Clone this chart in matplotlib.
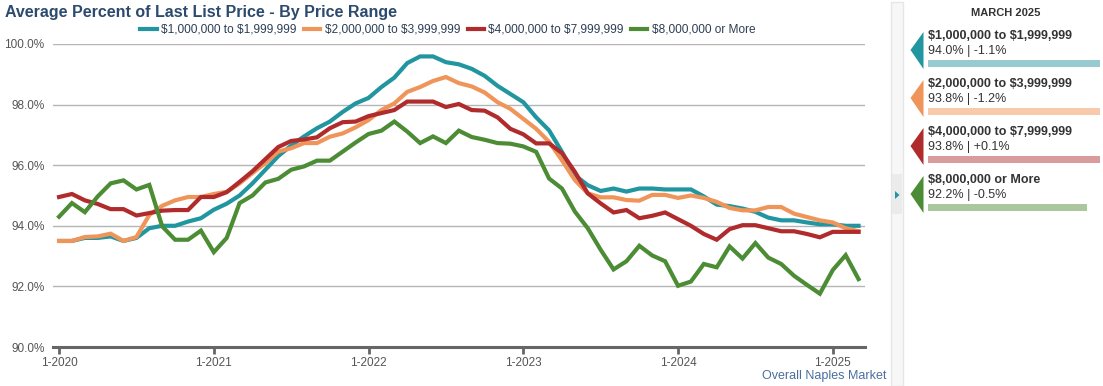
import matplotlib
matplotlib.use("Agg")
import matplotlib.pyplot as plt
from matplotlib.patches import Polygon, Rectangle

plt.rcParams['font.family'] = ['Liberation Sans', 'DejaVu Sans']
plt.rcParams['text.parse_math'] = False

# monthly values, Jan 2020 .. Mar 2025
series_names = ["$1,000,000 to $1,999,999", "$2,000,000 to $3,999,999",
                "$4,000,000 to $7,999,999", "$8,000,000 or More"]
colors = ["#2196a0", "#f0955a", "#b02b2b", "#4b8c34"]
light_colors = ["#98cbd0", "#f8c9ab", "#d99b9b", "#abc79e"]

tier1 = [93.5, 93.5, 93.6, 93.6, 93.65, 93.5, 93.6, 93.92, 94.0, 94.0, 94.14, 94.25,
         94.53, 94.73, 95.0, 95.4, 95.85, 96.3, 96.65, 96.95, 97.22, 97.44, 97.76, 98.04,
         98.22, 98.58, 98.89, 99.37, 99.59, 99.59, 99.4, 99.33, 99.18, 98.95, 98.62, 98.35,
         98.08, 97.58, 97.15, 96.44, 95.67, 95.34, 95.15, 95.23, 95.13, 95.23, 95.23, 95.2,
         95.2, 95.2, 94.97, 94.7, 94.65, 94.57, 94.46, 94.27, 94.18, 94.18, 94.11, 94.05,
         94.05, 94.0, 94.0]
tier2 = [93.5, 93.5, 93.63, 93.65, 93.74, 93.5, 93.63, 94.36, 94.66, 94.84, 94.95, 94.95,
         95.05, 95.12, 95.4, 95.74, 96.07, 96.45, 96.56, 96.73, 96.73, 96.94, 97.05, 97.25,
         97.49, 97.82, 98.04, 98.42, 98.58, 98.78, 98.91, 98.71, 98.6, 98.4, 98.08, 97.86,
         97.53, 97.2, 96.77, 96.16, 95.51, 95.07, 94.94, 94.94, 94.85, 94.83, 95.02, 95.02,
         94.92, 95.0, 94.92, 94.79, 94.59, 94.51, 94.51, 94.62, 94.62, 94.4, 94.29, 94.18,
         94.11, 93.92, 93.82]
tier3 = [94.95, 95.05, 94.84, 94.72, 94.55, 94.55, 94.34, 94.42, 94.5, 94.52, 94.52, 94.95,
         94.95, 95.11, 95.45, 95.8, 96.2, 96.6, 96.8, 96.85, 96.92, 97.22, 97.42, 97.44,
         97.62, 97.72, 97.82, 98.1, 98.1, 98.1, 97.92, 98.02, 97.82, 97.8, 97.58, 97.2,
         97.02, 96.72, 96.72, 96.4, 95.78, 95.07, 94.74, 94.44, 94.52, 94.25, 94.33, 94.44,
         94.22, 94.0, 93.73, 93.54, 93.89, 94.02, 94.02, 93.92, 93.82, 93.82, 93.73, 93.62,
         93.8, 93.8, 93.8]
tier4 = [94.3, 94.75, 94.45, 94.97, 95.4, 95.5, 95.2, 95.35, 93.98, 93.54, 93.54, 93.84,
         93.13, 93.6, 94.75, 95.0, 95.43, 95.55, 95.85, 95.96, 96.15, 96.15, 96.45, 96.75,
         97.03, 97.14, 97.44, 97.11, 96.73, 96.95, 96.73, 97.14, 96.93, 96.84, 96.73, 96.71,
         96.62, 96.44, 95.56, 95.23, 94.47, 93.92, 93.21, 92.56, 92.83, 93.34, 93.02, 92.83,
         92.02, 92.16, 92.74, 92.63, 93.32, 92.92, 93.43, 92.95, 92.74, 92.35, 92.05, 91.76,
         92.54, 93.03, 92.24]
all_series = [tier1, tier2, tier3, tier4]

tick_labels = ["1-2020", "1-2021", "1-2022", "1-2023", "1-2024", "1-2025"]
panel_month = "MARCH 2025"
panel_values = ["94.0% | -1.1%", "93.8% | -1.2%", "93.8% | +0.1%", "92.2% | -0.5%"]

W, H = 1103, 386
fig = plt.figure(figsize=(W / 100, H / 100), dpi=100)

ax = fig.add_axes([53 / W, 1 - 347 / H, 812 / W, 303 / H])
months = list(range(len(tier1)))
for vals, c, name in zip(all_series, colors, series_names):
    ax.plot(months, vals, color=c, lw=3.0, label=name, solid_joinstyle='miter')

ax.set_ylim(90, 100)
ax.set_xlim(-0.47, 62.5)
ax.set_yticks([90, 92, 94, 96, 98, 100])
ax.set_yticklabels([f"{v:.1f}%" for v in [90, 92, 94, 96, 98, 100]])
ax.set_xticks([12 * i for i in range(len(tick_labels))])
ax.set_xticklabels(tick_labels)
ax.grid(axis='y', color='#b5b5b5', lw=1)
ax.set_axisbelow(True)
for s in ['top', 'right', 'left']:
    ax.spines[s].set_visible(False)
ax.spines['bottom'].set_color('#666666')
ax.spines['bottom'].set_linewidth(2.2)
ax.tick_params(axis='y', length=0, labelsize=8.5, labelcolor='#555555', pad=6)
ax.tick_params(axis='x', length=5, width=2, color='#666666', labelsize=8.5,
               labelcolor='#555555', pad=2)

fig.legend(loc='center', bbox_to_anchor=(448 / W, 1 - 30 / H), ncol=4, frameon=False,
           fontsize=8.6, handlelength=1.35, handletextpad=0.4, columnspacing=0.6,
           labelcolor='#2d3f55')

fig.text(5 / W, 1 - 12 / H, "Average Percent of Last List Price - By Price Range",
         fontsize=11.5, fontweight='bold', color='#2c4a6e', va='center', ha='left')
fig.text(886 / W, 1 - 376 / H, "Overall Naples Market", fontsize=9,
         color='#4a6f9e', va='center', ha='right')

# right-hand summary panel in pixel coordinates
pan = fig.add_axes([0, 0, 1, 1], zorder=5)
pan.set_xlim(0, W)
pan.set_ylim(H, 0)
pan.axis('off')
pan.patch.set_alpha(0)
pan.add_patch(Rectangle((891, 2), 12, H - 2, facecolor='#f7f7f7', edgecolor='#e6e6e6', lw=1))
pan.add_patch(Rectangle((892, 174), 10, 40, facecolor='#ebebeb', edgecolor='none'))
pan.add_patch(Polygon([(895, 191), (895, 199), (899.5, 195)], closed=True,
                      facecolor='#2196a0', edgecolor='none'))
pan.text(1006, 13, panel_month, fontsize=8, fontweight='bold', color='#333333',
         ha='center', va='center')

for i, (name, val, c, lc) in enumerate(zip(series_names, panel_values, colors, light_colors)):
    y0 = 32 + 48 * i
    pan.add_patch(Polygon([(910.5, y0 + 18), (923.5, y0), (923.5, y0 + 37)], closed=True,
                          facecolor=c, edgecolor='none'))
    pan.text(928, y0 + 4, name, fontsize=9, fontweight='bold', color='#333333',
             ha='left', va='center')
    pan.text(928, y0 + 19, val, fontsize=9, color='#333333', ha='left', va='center')
    bar_end = 1087 if i == 3 else 1100
    pan.add_patch(Rectangle((928, y0 + 28), bar_end - 928, 6.5, facecolor=lc, edgecolor='none'))

fig.savefig("out.png", dpi=100)
